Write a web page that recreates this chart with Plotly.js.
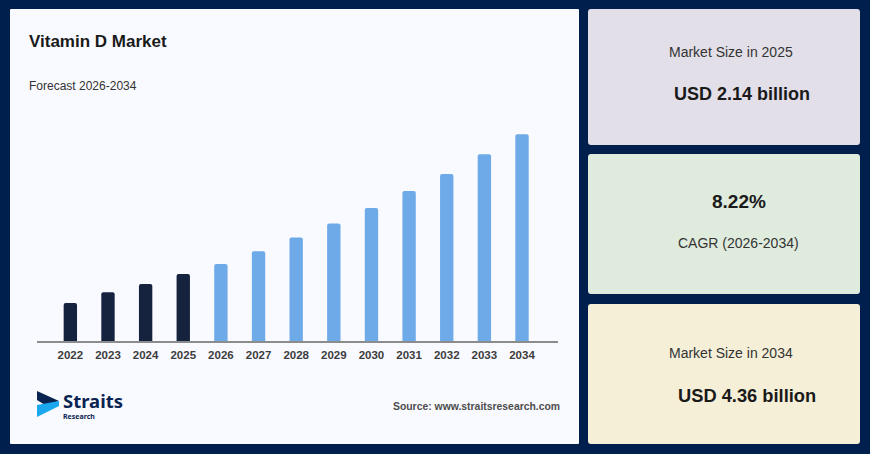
<!DOCTYPE html>
<html><head><meta charset="utf-8">
<script src="https://cdn.plot.ly/plotly-3.0.1.min.js"></script>
<style>html,body{margin:0;padding:0;background:#001f4d;overflow:hidden}#c{width:870px;height:454px}</style>
</head><body><div id="c"></div>
<script>
const historicYears = [2022, 2023, 2024, 2025];
const historicValues = [1.68, 1.85, 1.98, 2.14];
const forecastYears = [2026, 2027, 2028, 2029, 2030, 2031, 2032, 2033, 2034];
const forecastValues = [2.30, 2.50, 2.72, 2.94, 3.19, 3.46, 3.73, 4.04, 4.36];
const tickYears = historicYears.concat(forecastYears);

const W = 870, H = 454;
const FONT = '"Liberation Sans", Arial, sans-serif';
const px = x => x / W, py = y => 1 - y / H;

function roundRect(x0, y0, x1, y1, r, fill) {
  const rx = r / W, ry = r / H, a = px(x0), b = px(x1), t = py(y0), u = py(y1);
  return {type: 'path', xref: 'paper', yref: 'paper', layer: 'below', fillcolor: fill, line: {width: 0},
    path: `M${a + rx},${t} L${b - rx},${t} Q${b},${t} ${b},${t - ry} L${b},${u + ry} Q${b},${u} ${b - rx},${u} L${a + rx},${u} Q${a},${u} ${a},${u + ry} L${a},${t - ry} Q${a},${t} ${a + rx},${t} Z`};
}
function poly(points, fill) {
  return {type: 'path', xref: 'paper', yref: 'paper', layer: 'below', fillcolor: fill, line: {width: 0},
    path: 'M' + points.map(p => px(p[0]) + ',' + py(p[1])).join(' L') + ' Z'};
}
function label(text, x, y, size, color, bold, anchor, family) {
  return {text: bold ? '<b>' + text + '</b>' : text, x: px(x), y: py(y), xref: 'paper', yref: 'paper',
    xanchor: anchor || 'center', yanchor: 'middle', showarrow: false, align: anchor || 'center',
    font: {family: family || FONT, size: size, color: color}};
}

const shapes = [
  roundRect(10, 9, 579, 444, 1, '#f9faff'),
  roundRect(588, 9, 860, 145, 3, '#e3dfe8'),
  roundRect(588, 154, 860, 294, 3, '#dfebdd'),
  roundRect(588, 304, 860, 444, 3, '#f5efd8'),
  poly([[37, 391], [59, 401], [45, 405], [37, 400]], '#0a2350'),
  poly([[37, 417], [37, 405], [59, 401], [59, 406]], '#1aa7ee')
];
const annotations = [
  label('Vitamin D Market', 27, 41, 17, '#1a1a1a', true, 'left'),
  label('Forecast 2026-2034', 27, 86, 12, '#333333', false, 'left'),
  label('Source: www.straitsresearch.com', 562, 406, 10.4, '#4d4d4d', true, 'right'),
  label('<span style="font-size:18.5px">Straits</span><br><span style="font-size:7px">Research</span>', 61, 404.5, 8.5, '#0a2350', true, 'left', '"Noto Sans", sans-serif'),
  label('Market Size in 2025', 730.5, 52, 14, '#333333', false),
  label('USD 2.14 billion', 742, 94, 18, '#1a1a1a', true),
  label('8.22%', 738.5, 201.5, 19, '#1a1a1a', true),
  label('CAGR (2026-2034)', 738, 243, 14, '#333333', false),
  label('Market Size in 2034', 730.5, 353, 14, '#333333', false),
  label('USD 4.36 billion', 747, 395.5, 18.3, '#1a1a1a', true)
];

const bar = (x, y, color) => ({type: 'bar', x: x, y: y, width: 0.355, marker: {color: color, line: {width: 0}}, hoverinfo: 'x+y', showlegend: false});

Plotly.newPlot('c', [
  bar(historicYears, historicValues, '#16233f'),
  bar(forecastYears, forecastValues, '#6ea9e8')
], {
  width: W, height: H,
  margin: {l: 0, r: 0, t: 0, b: 0, pad: 0},
  paper_bgcolor: '#001f4d', plot_bgcolor: 'rgba(0,0,0,0)',
  barcornerradius: 2,
  showlegend: false,
  xaxis: {domain: [px(37), px(558)], range: [2021.114, 2034.956], tickmode: 'array', tickvals: tickYears,
    ticktext: tickYears.map(String), ticks: '', showgrid: false, zeroline: false,
    showline: true, linecolor: '#8c8c8c', linewidth: 2, ticklabelstandoff: 2,
    tickfont: {family: FONT, size: 11.5, color: '#3d3d3d', weight: 'bold'}},
  yaxis: {domain: [py(341), py(110)], range: [1.075, 4.745], visible: false, showgrid: false, zeroline: false},
  shapes: shapes, annotations: annotations
}, {displayModeBar: false, responsive: false});
</script></body></html>
